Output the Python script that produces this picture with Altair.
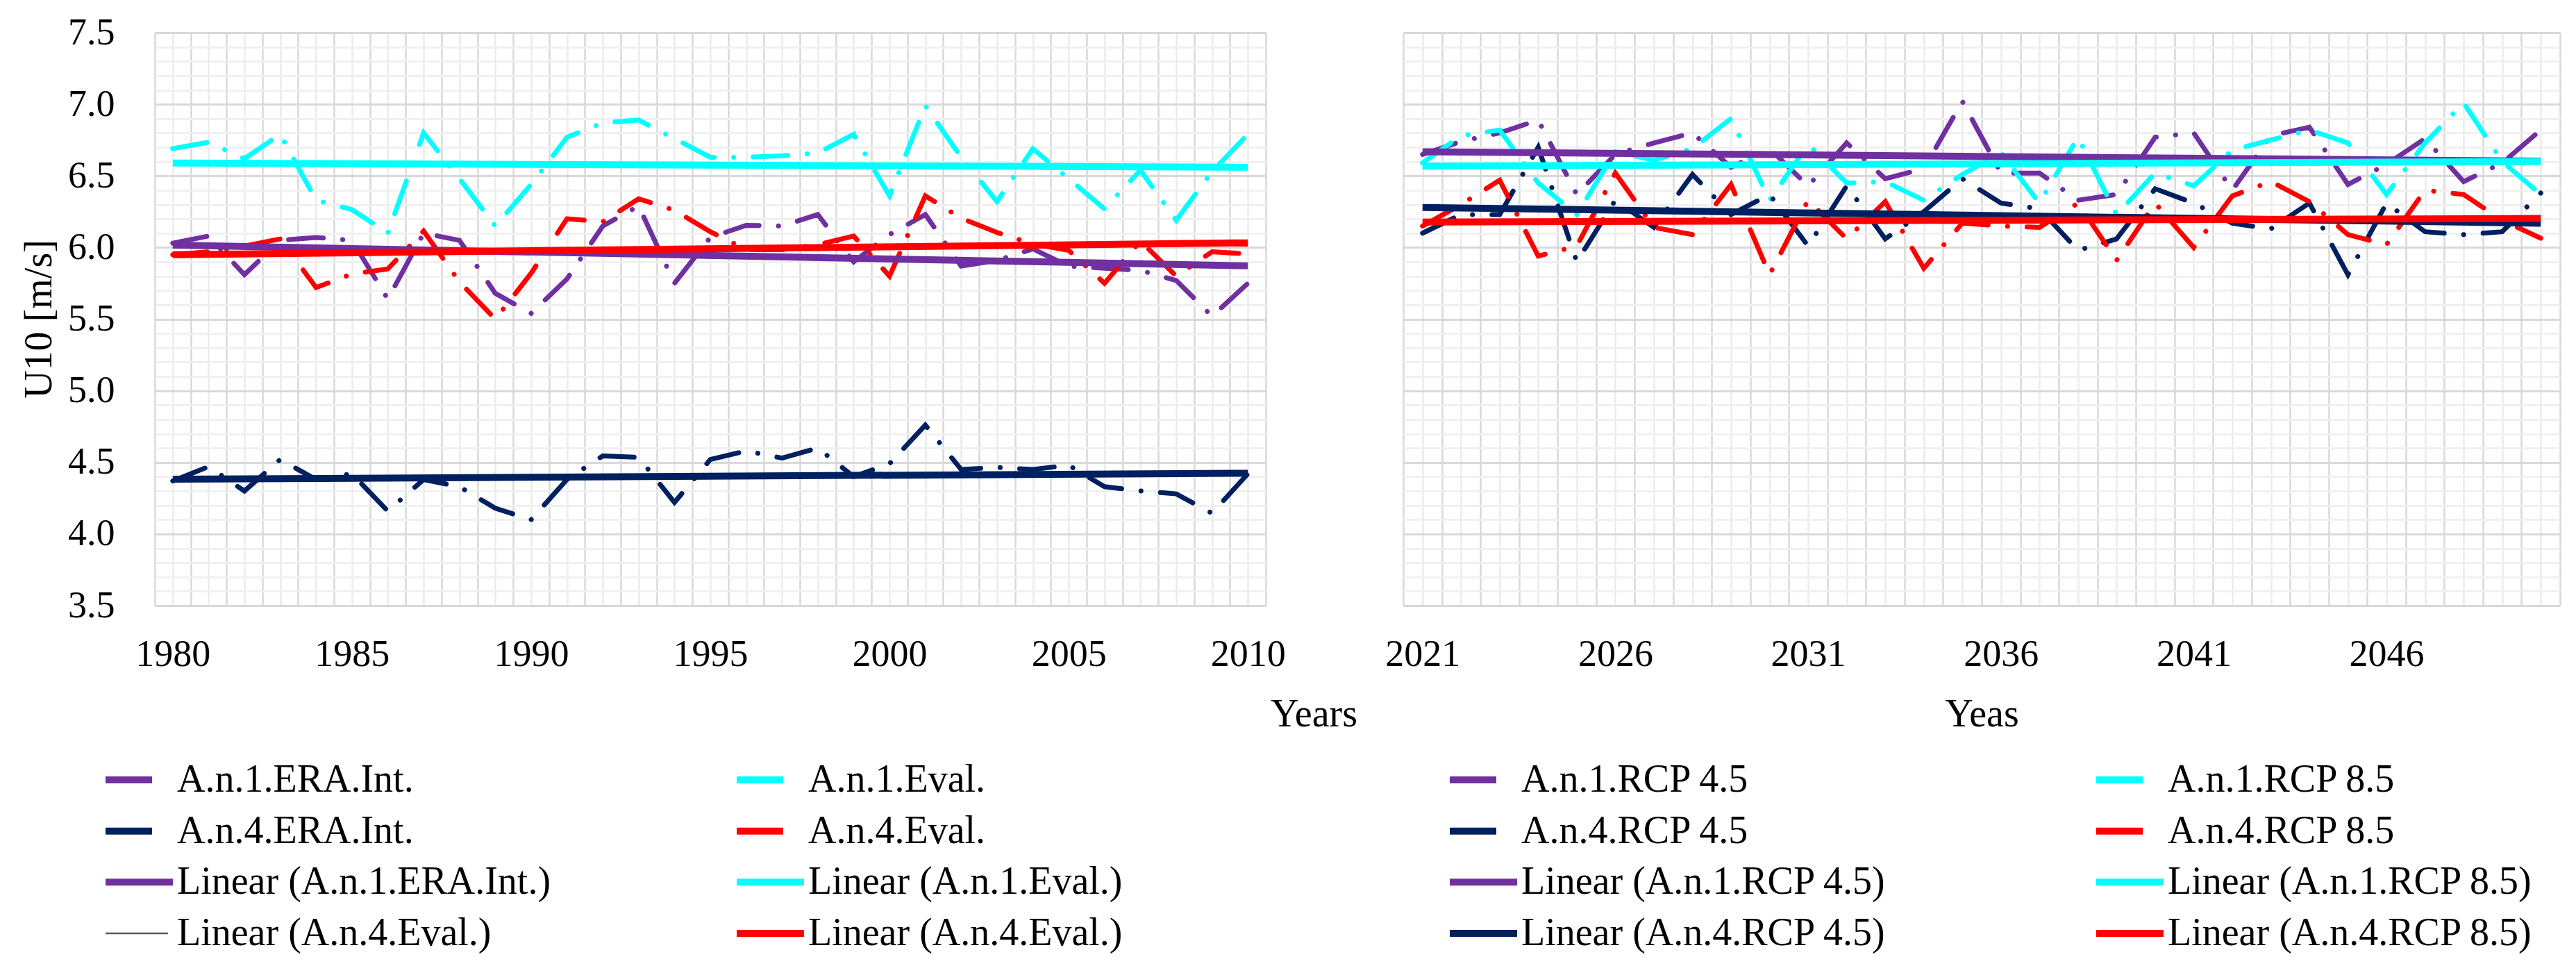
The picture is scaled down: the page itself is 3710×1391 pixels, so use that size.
import altair as alt
import pandas as pd

FONT = "Liberation Serif"
PURPLE = "#7030A0"
CYAN = "#00FFFF"
NAVY = "#002060"
RED = "#FF0000"

# ---------------- data ----------------
years_hist = list(range(1980, 2011))
years_fut = list(range(2021, 2051))

an1_era = [6.03, 6.08, 5.81, 6.05, 6.07, 6.05, 5.64, 6.10, 6.05, 5.68, 5.54, 5.78, 6.15, 6.29, 5.75,
           6.07, 6.155, 6.15, 6.23, 5.90, 6.09, 6.23, 5.87, 5.91, 5.99, 5.87, 5.855, 5.84, 5.77, 5.52, 5.75]
an1_eval = [6.69, 6.735, 6.62, 6.79, 6.33, 6.265, 6.10, 6.80, 6.48, 6.15, 6.44, 6.77, 6.87, 6.89, 6.76,
            6.63, 6.63, 6.64, 6.66, 6.79, 6.36, 6.99, 6.63, 6.32, 6.69, 6.48, 6.27, 6.54, 6.19, 6.53, 6.79]
an4_era = [4.37, 4.47, 4.30, 4.52, 4.38, 4.42, 4.16, 4.38, 4.33, 4.18, 4.10, 4.38, 4.545, 4.535, 4.22,
           4.52, 4.58, 4.53, 4.60, 4.40, 4.49, 4.76, 4.45, 4.465, 4.45, 4.48, 4.33, 4.30, 4.28, 4.145, 4.42]
an4_eval = [5.95, 5.97, 6.01, 6.06, 5.72, 5.815, 5.85, 6.115, 5.76, 5.50, 5.82, 6.20, 6.18, 6.34, 6.26,
            6.11, 5.985, 5.985, 6.02, 6.08, 5.80, 6.36, 6.205, 6.105, 6.025, 5.98, 5.75, 6.045, 5.80, 5.97, 5.955]

an1_rcp45 = [6.65, 6.74, 6.80, 6.89, 6.37, 6.65, 6.73, 6.80, 6.56, 6.69, 6.43, 6.73, 6.48, 6.55, 7.02,
             6.52, 6.52, 6.33, 6.37, 6.77, 6.80, 6.40, 6.78, 6.84, 6.44, 6.58, 6.76, 6.46, 6.59, 6.82]
an1_rcp85 = [6.59, 6.78, 6.82, 6.45, 6.23, 6.67, 6.61, 6.69, 6.90, 6.33, 6.72, 6.45, 6.46, 6.33, 6.51,
             6.66, 6.31, 6.77, 6.23, 6.52, 6.43, 6.68, 6.75, 6.82, 6.73, 6.37, 6.73, 7.01, 6.60, 6.37]
an4_rcp45 = [6.10, 6.23, 6.23, 6.70, 5.90, 6.33, 6.14, 6.51, 6.23, 6.37, 6.01, 6.43, 6.06, 6.25, 6.48,
             6.31, 6.27, 5.98, 6.06, 6.41, 6.31, 6.17, 6.13, 6.31, 5.81, 6.31, 6.11, 6.09, 6.11, 6.38]
an4_rcp85 = [6.15, 6.30, 6.47, 5.94, 6.01, 6.52, 6.14, 6.09, 6.44, 5.81, 6.33, 6.06, 6.32, 5.855, 6.17,
             6.15, 6.14, 6.31, 5.91, 6.31, 6.00, 6.36, 6.46, 6.32, 6.09, 6.02, 6.40, 6.37, 6.19, 6.065]

hist_series = ["A.n.1.ERA.Int.", "A.n.1.Eval.", "A.n.4.ERA.Int.", "A.n.4.Eval."]
hist_values = [an1_era, an1_eval, an4_era, an4_eval]
fut_series = ["A.n.1.RCP 4.5", "A.n.1.RCP 8.5", "A.n.4.RCP 4.5", "A.n.4.RCP 8.5"]
fut_values = [an1_rcp45, an1_rcp85, an4_rcp45, an4_rcp85]

legend_labels = [
    "A.n.1.ERA.Int.", "A.n.1.Eval.", "A.n.1.RCP 4.5", "A.n.1.RCP 8.5",
    "A.n.4.ERA.Int.", "A.n.4.Eval.", "A.n.4.RCP 4.5", "A.n.4.RCP 8.5",
    "Linear (A.n.1.ERA.Int.)", "Linear (A.n.1.Eval.)", "Linear (A.n.1.RCP 4.5)", "Linear (A.n.1.RCP 8.5)",
    "Linear (A.n.4.Eval.)", "Linear (A.n.4.Eval.)", "Linear (A.n.4.RCP 4.5)", "Linear (A.n.4.RCP 8.5)",
]
legend_keys = [
    "A.n.1.ERA.Int.", "A.n.1.Eval.", "A.n.1.RCP 4.5", "A.n.1.RCP 8.5",
    "A.n.4.ERA.Int.", "A.n.4.Eval.", "A.n.4.RCP 4.5", "A.n.4.RCP 8.5",
    "A.n.1.ERA.Int.", "A.n.1.Eval.", "A.n.1.RCP 4.5", "A.n.1.RCP 8.5",
    "thin", "A.n.4.Eval.", "A.n.4.RCP 4.5", "A.n.4.RCP 8.5",
]
legend_kinds = ["series"] * 8 + ["trend"] * 4 + ["thin", "trend", "trend", "trend"]

COLORS = {
    "A.n.1.ERA.Int.": PURPLE, "A.n.1.Eval.": CYAN, "A.n.4.ERA.Int.": NAVY, "A.n.4.Eval.": RED,
    "A.n.1.RCP 4.5": PURPLE, "A.n.1.RCP 8.5": CYAN, "A.n.4.RCP 4.5": NAVY, "A.n.4.RCP 8.5": RED,
    "thin": "#5A5A5A",
}

# ---------------- frames ----------------
def long_frame(years, names, values):
    rows = []
    for n, vals in zip(names, values):
        for yr, v in zip(years, vals):
            rows.append({"year": yr, "value": v, "series": n})
    return pd.DataFrame(rows)

hist_df = long_frame(years_hist, hist_series, hist_values)
fut_df = long_frame(years_fut, fut_series, fut_values)

# ---------------- axes ----------------
yvals = [round(3.5 + 0.1 * i, 1) for i in range(41)]
MAJ = "abs(datum.value*2 - round(datum.value*2)) < 0.001"
ygrid = dict(grid=True,
             gridColor={"condition": {"test": MAJ, "value": "#D9D9D9"}, "value": "#F0F0F0"},
             gridWidth=3, ticks=False, tickSize=0, domain=False)

y_axis_left = alt.Axis(values=yvals, labelExpr=MAJ + " ? format(datum.value, '.1f') : ''",
                       labelFont=FONT, labelFontSize=54, labelColor="#000000", labelPadding=58,
                       labelOverlap=False, title="U10 [m/s]", titleFont=FONT, titleFontSize=56,
                       titleFontWeight="normal", titleColor="#000000", titleX=-167, titleY=412,
                       titleAngle=270, titleBaseline="middle", titleAlign="center", **ygrid)
y_axis_right = alt.Axis(values=yvals, labels=False, title="", **ygrid)

def x_axis(vals, label_test, title, title_x):
    return alt.Axis(values=vals, labelExpr=label_test + " ? format(datum.value, 'd') : ''",
                    grid=True,
                    gridColor={"condition": {"test": "datum.value % 1 != 0", "value": "#D9D9D9"},
                               "value": "#EBEBEB"},
                    gridWidth=2.5, ticks=False, tickSize=0, domain=False,
                    labelFont=FONT, labelFontSize=54, labelColor="#000000", labelBaseline="alphabetic",
                    labelPadding=86, labelOverlap=False, labelFlush=False,
                    title=title, titleFont=FONT, titleFontSize=56, titleFontWeight="normal",
                    titleColor="#000000", titleX=title_x, titleY=156, titleBaseline="middle",
                    titleAlign="center")

xl_vals = [1979.5 + 0.5 * i for i in range(63)]
xr_vals = [2020.5 + 0.5 * i for i in range(61)]

H = 825

def panel_layers(df, names, xdomain, xaxis, yaxis, width):
    x = alt.X("year:Q", scale=alt.Scale(domain=xdomain, nice=False, zero=False), axis=xaxis)
    y = alt.Y("value:Q", scale=alt.Scale(domain=[3.5, 7.5], nice=False, zero=False), axis=yaxis)
    base = alt.Chart(df)
    layers = []
    for n in names:
        layers.append(
            base.transform_filter(alt.datum.series == n)
            .mark_line(color=COLORS[n], strokeWidth=7, strokeDash=[50, 28, 0.1, 28], strokeCap="round")
            .encode(x=x, y=y)
        )
    for n in names:
        layers.append(
            base.transform_filter(alt.datum.series == n)
            .transform_regression("year", "value")
            .mark_line(color=COLORS[n], strokeWidth=10)
            .encode(x=x, y=y)
        )
    return alt.layer(*layers)

# ---------------- legend (drawn below, attached to the left panel) ----------------
leg_df = pd.DataFrame({
    "label": legend_labels,
    "key": legend_keys,
    "kind": legend_kinds,
    "col": [i % 4 for i in range(len(legend_labels))],
    "row": [i // 4 for i in range(len(legend_labels))],
})
key_domain = list(COLORS.keys())
key_range = [COLORS[k] for k in key_domain]
lx = alt.X("col:Q", scale=alt.Scale(domain=[0, 1, 2, 3], range=[-71, 838, 1865, 2796]), axis=None)
ly = alt.Y("row:Q", scale=alt.Scale(domain=[0, 3], range=[1076, 1297]), axis=None)
lc = alt.Color("key:N", scale=alt.Scale(domain=key_domain, range=key_range), legend=None)
lbase = alt.Chart(leg_df)
legend_layer = alt.layer(
    lbase.transform_filter(alt.datum.kind == "series").mark_rule(strokeWidth=10, x2Offset=67)
    .encode(x=lx, x2="col:Q", y=ly, color=lc),
    lbase.transform_filter(alt.datum.kind == "trend").mark_rule(strokeWidth=10, x2Offset=97)
    .encode(x=lx, x2="col:Q", y=ly, color=lc),
    lbase.transform_filter(alt.datum.kind == "thin").mark_rule(strokeWidth=2.5, x2Offset=90)
    .encode(x=lx, x2="col:Q", y=ly, color=lc),
    lbase.mark_text(align="left", baseline="middle", dx=103, font=FONT, fontSize=56, color="#000000")
    .encode(x=lx, y=ly, text="label:N"),
)

left_plot = panel_layers(hist_df, hist_series, [1979.5, 2010.5],
                         x_axis(xl_vals, "datum.value % 5 == 0", "Years", 1669), y_axis_left, 1600)
left = alt.layer(left_plot, legend_layer).resolve_scale(
    x="independent", y="independent", color="independent"
).properties(width=1600, height=H)

right = panel_layers(fut_df, fut_series, [2020.5, 2050.5],
                     x_axis(xr_vals, "(datum.value - 2021) % 5 == 0", "Yeas", 833),
                     y_axis_right, 1666).properties(width=1666, height=H)

chart = alt.hconcat(left, right, spacing=198, bounds="flush").properties(
    padding={"left": 19, "top": 11, "right": 5, "bottom": 5}
).configure_view(stroke="#D9D9D9", strokeWidth=3).configure(background="white")

chart.save("out.html", embed_options={"renderer": "svg", "actions": False})
